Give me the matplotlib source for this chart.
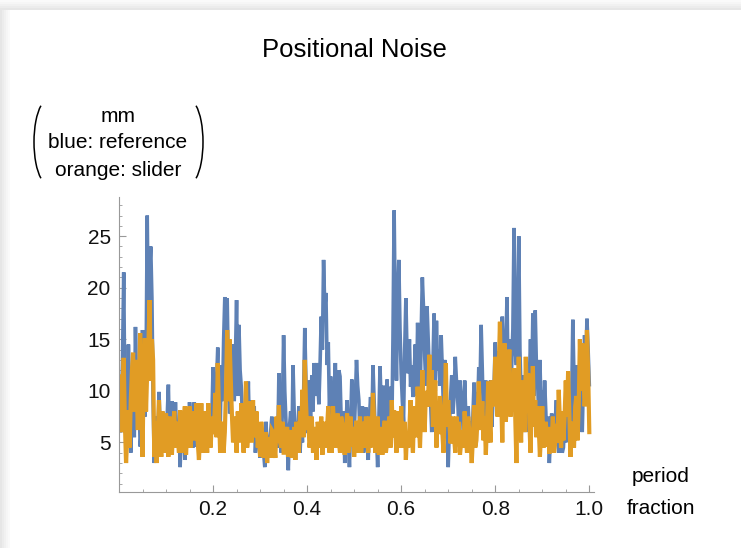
import numpy as np
import matplotlib
matplotlib.use("Agg")
import matplotlib.pyplot as plt
from matplotlib.patches import Arc, Rectangle
from matplotlib.transforms import IdentityTransform

plt.rcParams["font.family"] = ["Liberation Sans", "DejaVu Sans"]

# period fraction, sampled every 0.0025
fraction = np.linspace(0.0, 1.0, 401)

# positional noise in mm, reference: values at even samples (0, 0.005, ...)
ref_even = [
    11.0, 8.0, 21.5, 13.0, 14.5, 4.0, 9.0, 16.2, 7.0, 4.6,
    15.9, 7.5, 27.0, 21.5, 19.0, 3.0, 6.0, 9.9, 4.5, 6.9,
    5.0, 10.6, 6.0, 8.0, 8.9, 5.0, 2.6, 4.5, 3.3, 7.0,
    8.9, 5.5, 8.9, 4.6, 7.0, 8.7, 4.0, 6.5, 8.4, 5.0,
    12.3, 6.7, 14.2, 5.8, 9.0, 19.1, 19.0, 7.8, 12.0, 9.0,
    18.8, 16.4, 10.4, 5.8, 8.0, 10.9, 9.1, 5.9, 4.0, 6.2,
    3.5, 6.2, 2.6, 4.5, 5.0, 7.5, 4.0, 7.0, 11.7, 4.0,
    15.4, 7.0, 2.3, 8.0, 12.5, 3.3, 6.2, 4.0, 5.0, 16.1,
    5.9, 9.0, 11.5, 12.7, 12.7, 8.7, 17.2, 22.7, 19.5, 14.7,
    11.4, 4.6, 12.7, 7.0, 11.4, 5.2, 3.0, 9.1, 2.6, 11.1,
    5.8, 13.0, 9.1, 6.0, 4.0, 8.4, 3.3, 9.4, 12.5, 6.0,
    2.6, 12.4, 5.8, 9.0, 11.1, 10.4, 5.8, 27.5, 11.0, 22.7,
    11.7, 7.0, 19.0, 11.7, 10.4, 9.4, 14.5, 16.6, 8.0, 21.0,
    13.4, 18.2, 11.7, 6.0, 17.5, 16.8, 14.0, 15.4, 8.0, 10.4,
    2.6, 9.4, 7.8, 13.3, 9.4, 11.0, 8.0, 11.0, 4.5, 6.0,
    3.5, 10.8, 9.8, 12.3, 16.4, 7.0, 11.0, 5.0, 11.0, 8.8,
    14.7, 13.8, 14.7, 17.2, 8.7, 19.1, 15.0, 12.5, 25.8, 12.5,
    25.0, 9.5, 11.5, 6.0, 8.5, 15.0, 17.5, 17.8, 11.0, 13.0,
    10.0, 11.0, 4.6, 3.0, 7.8, 4.6, 9.1, 4.0, 6.2, 4.5,
    5.0, 5.8, 4.0, 16.9, 7.8, 12.5, 10.6, 6.0, 15.4, 17.0,
    10.6,
]
# reference: values at odd samples (0.0025, 0.0075, ...)
ref_odd = [
    6.5, 13.0, 9.0, 6.0, 9.5, 11.5, 5.5, 10.0, 9.5, 6.0,
    10.0, 12.0, 16.0, 24.0, 9.0, 7.5, 4.0, 6.5, 8.0, 4.0,
    7.5, 4.5, 9.0, 5.5, 6.0, 7.0, 6.0, 8.0, 5.0, 4.8,
    7.0, 4.5, 6.5, 8.0, 4.8, 6.0, 8.0, 4.5, 6.5, 7.5,
    9.0, 11.0, 8.0, 12.5, 15.0, 13.5, 12.0, 8.0, 14.5, 13.0,
    9.5, 12.0, 7.5, 4.5, 6.5, 5.5, 7.0, 8.5, 6.0, 5.0,
    5.5, 4.0, 7.0, 3.5, 6.0, 5.0, 6.5, 4.5, 6.5, 8.5,
    10.0, 5.0, 6.5, 4.5, 8.0, 7.0, 8.5, 7.0, 9.5, 11.0,
    11.0, 7.0, 8.0, 9.5, 11.0, 12.5, 14.0, 18.0, 12.5, 8.0,
    8.0, 9.5, 8.5, 12.0, 7.0, 8.0, 6.5, 5.5, 7.0, 9.0,
    9.0, 10.5, 5.5, 8.5, 7.0, 5.0, 7.5, 6.0, 9.0, 5.5,
    7.0, 8.5, 10.5, 6.5, 7.5, 8.5, 15.0, 17.0, 19.0, 16.0,
    9.0, 14.0, 13.5, 15.0, 12.5, 11.5, 9.5, 12.0, 15.5, 18.0,
    10.5, 15.0, 9.0, 12.5, 10.0, 12.0, 10.5, 12.0, 13.0, 7.0,
    6.5, 11.5, 9.5, 11.0, 6.5, 9.5, 6.0, 7.5, 8.5, 7.0,
    7.5, 6.5, 8.0, 10.0, 12.0, 9.5, 8.0, 8.5, 6.5, 10.5,
    10.0, 12.0, 11.0, 13.0, 14.0, 10.5, 9.0, 16.0, 14.0, 17.0,
    14.0, 7.0, 9.0, 10.5, 11.0, 10.0, 9.5, 12.5, 7.5, 8.0,
    7.0, 8.0, 7.5, 5.5, 6.0, 7.0, 6.0, 7.5, 4.0, 7.0,
    7.5, 8.0, 9.0, 11.0, 10.0, 7.5, 9.5, 11.0, 12.0, 14.0,
]

# positional noise in mm, slider: even samples
slider_even = [
    11.4, 6.0, 13.2, 3.0, 8.1, 9.0, 13.7, 13.0, 6.2, 15.6,
    3.6, 15.1, 12.0, 18.8, 15.0, 3.6, 3.0, 9.1, 3.6, 6.0,
    7.8, 3.6, 5.0, 6.2, 4.5, 5.5, 8.1, 4.0, 8.5, 6.0,
    8.5, 8.0, 5.2, 8.8, 3.3, 8.8, 5.0, 5.8, 8.8, 4.5,
    5.8, 9.8, 12.7, 4.0, 7.0, 6.0, 15.9, 15.0, 7.8, 5.8,
    4.0, 6.5, 8.8, 4.0, 10.9, 6.0, 7.8, 9.1, 6.2, 4.5,
    3.6, 5.5, 4.6, 3.0, 5.0, 6.2, 4.5, 7.5, 8.6, 4.5,
    4.0, 5.8, 3.6, 6.2, 4.5, 3.3, 5.0, 8.0, 10.1, 13.0,
    6.2, 4.5, 7.5, 5.0, 3.3, 5.8, 7.5, 5.2, 4.5, 8.5,
    5.2, 8.5, 4.5, 7.8, 4.0, 6.8, 3.8, 7.8, 5.0, 4.6,
    3.6, 7.1, 5.8, 4.0, 6.2, 7.5, 4.0, 4.5, 9.8, 4.0,
    7.5, 4.9, 3.8, 7.1, 5.0, 7.5, 9.1, 8.1, 4.0, 6.2,
    8.5, 5.8, 3.3, 4.5, 9.1, 4.0, 7.0, 10.4, 4.5, 12.0,
    6.0, 8.5, 13.5, 12.0, 9.1, 4.5, 5.8, 7.8, 4.0, 12.7,
    9.1, 4.9, 7.5, 4.0, 5.5, 3.8, 6.2, 8.0, 4.0, 6.0,
    3.0, 8.6, 5.2, 10.9, 6.2, 5.2, 3.8, 10.9, 5.0, 9.1,
    13.3, 7.5, 16.7, 5.0, 14.6, 9.1, 14.0, 9.1, 12.2, 3.0,
    13.3, 5.0, 8.5, 13.3, 11.7, 4.0, 12.4, 9.1, 8.5, 3.6,
    8.5, 5.0, 4.6, 3.9, 5.2, 4.0, 6.8, 10.1, 4.5, 5.2,
    11.0, 11.9, 3.6, 6.0, 8.5, 5.2, 15.0, 14.6, 8.5, 15.9,
    6.0,
]
# slider: odd samples
slider_odd = [
    8.0, 9.5, 7.0, 5.5, 4.5, 12.0, 8.0, 10.5, 11.0, 9.0,
    12.0, 8.0, 14.5, 11.0, 13.0, 7.0, 6.0, 5.0, 8.0, 4.0,
    5.0, 7.5, 3.8, 8.0, 7.0, 4.0, 5.5, 6.5, 3.8, 4.5,
    4.5, 6.0, 7.0, 5.0, 6.0, 4.0, 8.0, 4.0, 5.5, 7.5,
    7.0, 5.5, 8.5, 6.5, 4.0, 10.0, 9.0, 11.5, 5.0, 7.5,
    8.0, 5.0, 6.5, 7.0, 4.5, 9.0, 5.0, 5.5, 8.0, 6.0,
    7.0, 3.5, 6.0, 5.5, 3.5, 6.0, 3.5, 5.0, 5.0, 7.0,
    4.0, 6.5, 5.0, 3.5, 6.5, 7.0, 4.0, 6.0, 5.5, 9.0,
    7.5, 5.5, 4.0, 6.5, 7.0, 4.5, 3.8, 7.0, 6.5, 4.0,
    4.0, 6.5, 6.0, 5.0, 7.5, 5.0, 6.0, 4.0, 7.5, 6.5,
    6.0, 4.0, 7.5, 7.0, 4.5, 5.5, 7.5, 6.5, 7.0, 5.0,
    3.8, 6.5, 6.0, 4.0, 6.5, 4.5, 5.5, 6.0, 8.0, 4.5,
    4.5, 7.0, 6.0, 6.5, 6.0, 8.5, 5.5, 7.0, 8.0, 9.0,
    10.0, 9.5, 8.5, 6.5, 11.0, 8.0, 9.5, 6.0, 8.5, 6.5,
    7.0, 6.5, 5.5, 7.5, 7.0, 5.0, 4.5, 5.5, 7.5, 5.5,
    5.5, 4.5, 7.5, 8.0, 9.0, 7.5, 7.0, 7.5, 11.0, 8.5,
    10.0, 12.0, 9.5, 11.0, 7.0, 11.5, 7.5, 8.0, 7.5, 9.0,
    8.0, 11.0, 6.0, 8.5, 7.0, 8.5, 6.5, 5.5, 6.5, 6.0,
    4.5, 7.0, 6.5, 6.0, 7.5, 5.0, 5.0, 7.0, 8.0, 7.5,
    7.5, 8.0, 7.0, 4.5, 9.5, 8.5, 10.0, 11.5, 10.0, 12.0,
]

noise_reference = np.empty(401)
noise_reference[0::2] = ref_even
noise_reference[1::2] = ref_odd
noise_slider = np.empty(401)
noise_slider[0::2] = slider_even
noise_slider[1::2] = slider_odd

W, H = 741, 548
fig = plt.figure(figsize=(W / 100, H / 100), dpi=100)
fig.patch.set_facecolor("white")

# light frame shading along the top and left edges
for i, c in enumerate(["#e6e6e6", "#ececec", "#f1f1f1", "#f6f6f6", "#fafafa"]):
    fig.add_artist(Rectangle((0, H - 10 + 2 * i), W, 2, transform=IdentityTransform(),
                             facecolor=c, edgecolor="none"))
    fig.add_artist(Rectangle((2 * i, 0), 2, H - 10, transform=IdentityTransform(),
                             facecolor=c, edgecolor="none"))

ax = fig.add_axes([119 / W, 56 / H, 475 / W, 295 / H])
ax.plot(fraction, noise_reference, color="#5E81B5", lw=2.6, solid_joinstyle="miter")
ax.plot(fraction, noise_slider, color="#E19C24", lw=3.0, solid_joinstyle="miter")

ax.set_xlim(0, 1.01)
ax.set_ylim(0.19, 28.8)
ax.set_facecolor("none")
for s in ["top", "right"]:
    ax.spines[s].set_visible(False)
for s in ["left", "bottom"]:
    ax.spines[s].set_color("#999999")
    ax.spines[s].set_linewidth(0.8)

ax.set_xticks([0.2, 0.4, 0.6, 0.8, 1.0])
ax.set_xticklabels(["0.2", "0.4", "0.6", "0.8", "1.0"])
ax.set_xticks(np.arange(0.05, 1.01, 0.05), minor=True)
ax.set_yticks([5, 10, 15, 20, 25])
ax.set_yticks(np.arange(1, 29, 1), minor=True)
ax.tick_params(which="major", direction="in", length=5, width=0.8, color="#999999",
               labelsize=15, labelcolor="#111111")
ax.tick_params(axis="x", which="major", pad=6)
ax.tick_params(axis="y", which="major", pad=6)
ax.tick_params(which="minor", direction="in", length=2.5, width=0.6, color="#999999")

fig.text(354 / W, 1 - 50 / H, "Positional Noise", ha="center", va="center", fontsize=18.5)

# stacked vertical label with parentheses
fig.text(118 / W, 1 - 116 / H, "mm", ha="center", va="center", fontsize=15)
fig.text(118 / W, 1 - 143 / H, "blue: reference", ha="center", va="center", fontsize=15)
fig.text(118 / W, 1 - 171 / H, "orange: slider", ha="center", va="center", fontsize=15)
fig.add_artist(Arc((48, H - 142), 28, 84, theta1=101, theta2=259,
                   transform=IdentityTransform(), color="black", lw=1.1))
fig.add_artist(Arc((189, H - 142), 28, 84, theta1=-79, theta2=79,
                   transform=IdentityTransform(), color="black", lw=1.1))

fig.text(661 / W, 1 - 476 / H, "period", ha="center", va="center", fontsize=15)
fig.text(661 / W, 1 - 508 / H, "fraction", ha="center", va="center", fontsize=15)

fig.savefig("out.png", dpi=100)
